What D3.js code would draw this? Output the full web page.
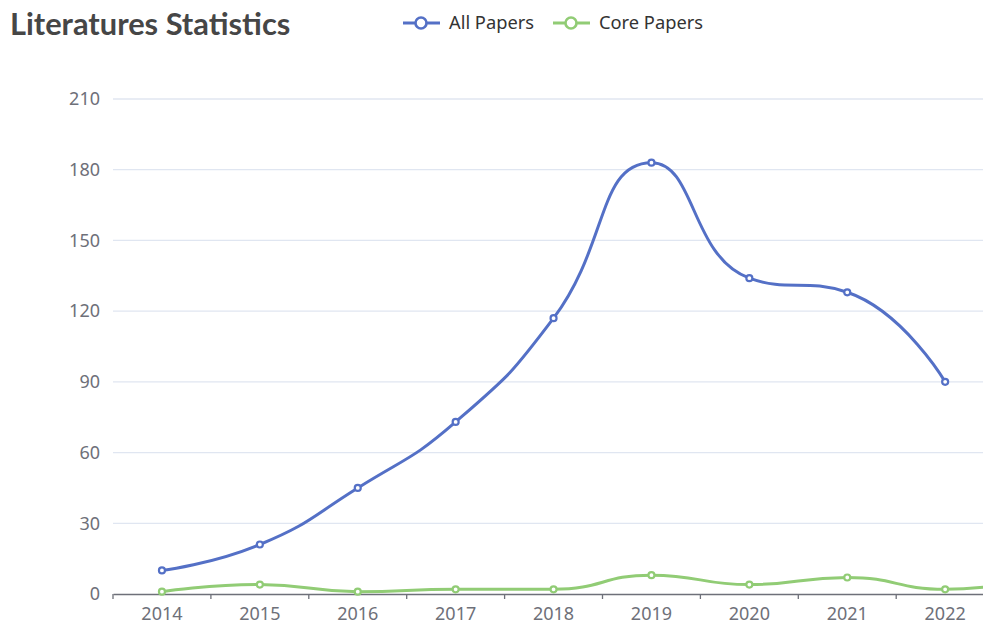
<!DOCTYPE html>
<html>
<head>
<meta charset="utf-8">
<script src="https://cdn.jsdelivr.net/npm/d3@7/dist/d3.min.js"></script>
<style>
  html, body { margin: 0; padding: 0; background: #fff; overflow: hidden; }
  svg { display: block; overflow: hidden; }
</style>
</head>
<body>
<div id="chart"></div>
<script>
// Yearly publication counts
const years = ["2014","2015","2016","2017","2018","2019","2020","2021","2022","2023"];
const allPapers  = [10, 21, 45, 73, 117, 183, 134, 128, 90, null];
const corePapers = [1, 4, 1, 2, 2, 8, 4, 7, 2, 7];
const yTicks = [0, 30, 60, 90, 120, 150, 180, 210];
const seriesNames = ["All Papers", "Core Papers"];
const seriesColors = ["#5470c6", "#91cc75"];

const W = 983, H = 624;
// plot area runs past the right edge of the view
const grid = { left: 113, right: 1092, top: 99, bottom: 594 };

const svg = d3.select("#chart").append("svg")
  .attr("width", W).attr("height", H);

const x = d3.scaleBand().domain(years).range([grid.left, grid.right]);
const y = d3.scaleLinear().domain([0, 210]).range([grid.bottom, grid.top]);
const cx = d => x(d) + x.bandwidth() / 2;

// Title
svg.append("text")
  .attr("x", 10).attr("y", 35)
  .attr("font-family", "Lato, 'Noto Sans', sans-serif")
  .attr("font-weight", 700)
  .attr("font-size", 30.8)
  .attr("fill", "#464646")
  .text("Literatures Statistics");

// Horizontal grid lines
svg.append("g").selectAll("line")
  .data(yTicks.filter(d => d !== 0))
  .join("line")
  .attr("x1", grid.left).attr("x2", grid.right)
  .attr("y1", d => y(d)).attr("y2", d => y(d))
  .attr("stroke", "#e0e6f1").attr("stroke-width", 1.3);

// Y axis labels
const yAxis = svg.append("g")
  .attr("transform", `translate(${grid.left},0)`)
  .call(d3.axisLeft(y).tickValues(yTicks).tickSize(0).tickPadding(13));
yAxis.select(".domain").remove();
yAxis.selectAll("text")
  .attr("font-family", "'Noto Sans', 'Open Sans', sans-serif")
  .attr("font-size", 18)
  .attr("fill", "#6e7079");

// X axis: labels centred in bands (only those inside the view), ticks on band boundaries
const xAxis = svg.append("g")
  .attr("transform", `translate(0,${grid.bottom})`)
  .call(d3.axisBottom(x)
    .tickValues(years.filter(yr => cx(yr) + 25 < W))
    .tickSize(0).tickPadding(13));
xAxis.select(".domain").attr("stroke", "#6e7079").attr("stroke-width", 1.3);
xAxis.selectAll("text")
  .attr("font-family", "'Noto Sans', 'Open Sans', sans-serif")
  .attr("font-size", 18)
  .attr("fill", "#6e7079");
xAxis.append("g").selectAll("line")
  .data(years)
  .join("line")
  .attr("x1", d => x(d))
  .attr("x2", d => x(d))
  .attr("y1", 0).attr("y2", 5)
  .attr("stroke", "#6e7079").attr("stroke-width", 1.3);

// Smoothed path with monotone-clamped control points
function smoothPath(pts, smooth) {
  let d = "";
  let prevX, prevY, cpx0, cpy0;
  const n = pts.length;
  for (let i = 0; i < n; i++) {
    const [px, py] = pts[i];
    if (i === 0) {
      d += `M${px},${py}`;
      cpx0 = px; cpy0 = py;
    } else {
      let cpx1, cpy1, nextCpx0, nextCpy0;
      if (i === n - 1) {
        cpx1 = px; cpy1 = py;
      } else {
        const [nx, ny] = pts[i + 1];
        let vx = nx - prevX, vy = ny - prevY;
        const dx0 = px - prevX, dy0 = py - prevY;
        const dx1 = nx - px, dy1 = ny - py;
        const lenPrev = Math.hypot(dx0, dy0);
        const lenNext = Math.hypot(dx1, dy1);
        const ratio = lenNext / (lenNext + lenPrev);
        nextCpx0 = px + vx * smooth * ratio;
        nextCpy0 = py + vy * smooth * ratio;
        nextCpx0 = Math.max(Math.min(nextCpx0, Math.max(nx, px)), Math.min(nx, px));
        nextCpy0 = Math.max(Math.min(nextCpy0, Math.max(ny, py)), Math.min(ny, py));
        vx = nextCpx0 - px; vy = nextCpy0 - py;
        cpx1 = px - vx * lenPrev / lenNext;
        cpy1 = py - vy * lenPrev / lenNext;
        cpx1 = Math.max(Math.min(cpx1, Math.max(prevX, px)), Math.min(prevX, px));
        cpy1 = Math.max(Math.min(cpy1, Math.max(prevY, py)), Math.min(prevY, py));
        vx = px - cpx1; vy = py - cpy1;
        nextCpx0 = px + vx * lenNext / lenPrev;
        nextCpy0 = py + vy * lenNext / lenPrev;
      }
      d += `C${cpx0},${cpy0},${cpx1},${cpy1},${px},${py}`;
      cpx0 = nextCpx0; cpy0 = nextCpy0;
    }
    prevX = px; prevY = py;
  }
  return d;
}

const seriesData = [allPapers, corePapers];

seriesData.forEach((vals, si) => {
  const pts = years.map((yr, i) => ({ yr, v: vals[i] })).filter(p => p.v !== null);
  const projected = pts.map(p => [cx(p.yr), y(p.v)]);
  svg.append("path")
    .attr("d", smoothPath(projected, 0.5))
    .attr("fill", "none")
    .attr("stroke", seriesColors[si])
    .attr("stroke-width", 3)
    .attr("stroke-linejoin", "round");
  svg.append("g").selectAll("circle")
    .data(pts)
    .join("circle")
    .attr("cx", p => cx(p.yr))
    .attr("cy", p => y(p.v))
    .attr("r", 3)
    .attr("fill", "#fff")
    .attr("stroke", seriesColors[si])
    .attr("stroke-width", 2.2);
});

// Legend
const legendItems = [
  { name: seriesNames[0], color: seriesColors[0], x0: 403 },
  { name: seriesNames[1], color: seriesColors[1], x0: 553 }
];
const lg = svg.append("g");
legendItems.forEach(it => {
  const g = lg.append("g").attr("transform", `translate(${it.x0},23)`);
  g.append("line").attr("x1", 0).attr("x2", 37).attr("y1", 0).attr("y2", 0)
    .attr("stroke", it.color).attr("stroke-width", 3);
  g.append("circle").attr("cx", 18).attr("cy", 0).attr("r", 5.5)
    .attr("fill", "#fff").attr("stroke", it.color).attr("stroke-width", 2.6);
  g.append("text").attr("x", 46).attr("y", 0).attr("dy", "0.35em")
    .attr("font-family", "'Noto Sans', 'Open Sans', sans-serif")
    .attr("font-size", 18.3)
    .attr("fill", "#333")
    .text(it.name);
});
</script>
</body>
</html>
